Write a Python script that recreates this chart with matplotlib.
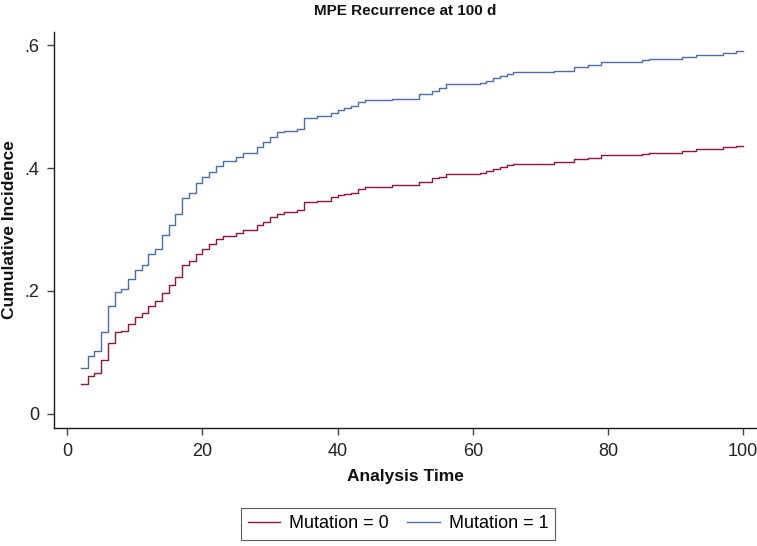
import matplotlib
matplotlib.use("Agg")
import matplotlib.pyplot as plt

# ---- data ----
times = [2, 3, 4, 5, 6, 7, 8, 9, 10, 11, 12, 13, 14, 15, 16, 17, 18, 19, 20, 21,
         22, 23, 25, 26, 28, 29, 30, 31, 32, 34, 35, 37, 39, 40, 41, 42, 43, 44,
         48, 52, 54, 55, 56, 61, 62, 63, 64, 65, 66, 72, 75, 77, 79, 85, 86, 91,
         93, 97, 99, 100]

ci_mut0 = [0.048, 0.062, 0.067, 0.088, 0.116, 0.133, 0.135, 0.147, 0.157, 0.164,
           0.176, 0.184, 0.197, 0.210, 0.223, 0.243, 0.249, 0.260, 0.269, 0.276,
           0.284, 0.289, 0.295, 0.299, 0.307, 0.313, 0.321, 0.326, 0.329, 0.332,
           0.344, 0.347, 0.353, 0.356, 0.358, 0.360, 0.366, 0.369, 0.372, 0.377,
           0.383, 0.386, 0.390, 0.392, 0.395, 0.399, 0.402, 0.405, 0.407, 0.409,
           0.415, 0.417, 0.421, 0.423, 0.425, 0.427, 0.431, 0.434, 0.436, 0.436]

ci_mut1 = [0.074, 0.095, 0.102, 0.134, 0.175, 0.198, 0.203, 0.219, 0.234, 0.243,
           0.260, 0.269, 0.291, 0.307, 0.325, 0.352, 0.359, 0.375, 0.385, 0.394,
           0.404, 0.411, 0.418, 0.424, 0.434, 0.442, 0.451, 0.458, 0.461, 0.464,
           0.481, 0.484, 0.490, 0.494, 0.497, 0.501, 0.507, 0.510, 0.513, 0.521,
           0.526, 0.530, 0.536, 0.539, 0.542, 0.546, 0.549, 0.553, 0.556, 0.558,
           0.565, 0.568, 0.572, 0.575, 0.577, 0.581, 0.584, 0.587, 0.590, 0.590]

series_labels = ["Mutation = 0", "Mutation = 1"]
x_ticks = [0, 20, 40, 60, 80, 100]
y_ticks = [0, 0.2, 0.4, 0.6]
y_ticklabels = ["0", ".2", ".4", ".6"]
title = "MPE Recurrence at 100 d"
xlabel = "Analysis Time"
ylabel = "Cumulative Incidence"

# ---- styling ----
plt.rcParams['font.family'] = ['Liberation Sans', 'DejaVu Sans']
RED = "#90143c"
BLUE = "#4a6ea8"
W, H = 757, 546
fig = plt.figure(figsize=(W / 100, H / 100), dpi=100)

left, right, top, bottom = 54.3, 756, 32.3, 428
ax = fig.add_axes([left / W, 1 - bottom / H, (right - left) / W, (bottom - top) / H])

ax.step(times, ci_mut0, where="post", color=RED, lw=1.0, label=series_labels[0])
ax.step(times, ci_mut1, where="post", color=BLUE, lw=1.0, label=series_labels[1])

ax.set_xlim(-1.92, 101.9)
ax.set_ylim(-0.0228, 0.6207)
ax.set_xticks(x_ticks)
ax.set_yticks(y_ticks)
ax.set_yticklabels(y_ticklabels)
for s in ["top", "right"]:
    ax.spines[s].set_visible(False)
for s in ["left", "bottom"]:
    ax.spines[s].set_color("#1a1a1a")
    ax.spines[s].set_linewidth(1.0)
ax.tick_params(axis="both", direction="out", length=5, width=1.0, color="#444444",
               labelsize=13, labelcolor="#222222", pad=6)

fig.text((left + right) / 2 / W, 1 - 11 / H, title, ha="center", va="center",
         fontsize=11, fontweight="bold", color="#111111")
fig.text((left + right) / 2 / W, 1 - 476 / H, xlabel, ha="center", va="center",
         fontsize=12.5, fontweight="bold", color="#111111")
fig.text(10 / W, 1 - 230 / H, ylabel, ha="center", va="center", rotation=90,
         fontsize=12.5, fontweight="bold", color="#111111")

handles, labels = ax.get_legend_handles_labels()
leg = fig.legend(handles, labels, loc="center", bbox_to_anchor=(398 / W, 1 - 524 / H),
                 ncol=2, frameon=True, fancybox=False, fontsize=13,
                 handlelength=1.8, handletextpad=0.5, columnspacing=1.0,
                 borderpad=0.4, edgecolor="#333333")
leg.get_frame().set_linewidth(0.8)

fig.savefig("out.png", dpi=100)
